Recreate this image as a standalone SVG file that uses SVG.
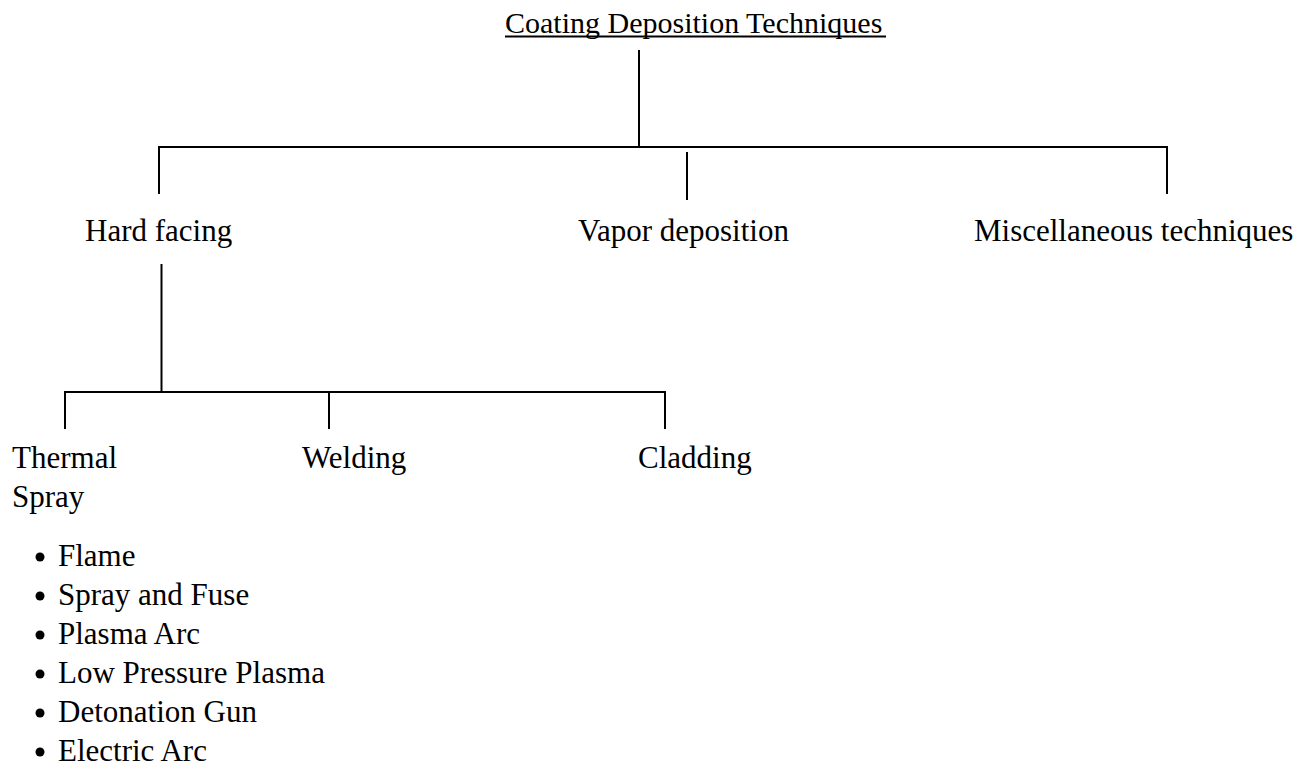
<svg xmlns="http://www.w3.org/2000/svg" width="1311" height="767" viewBox="0 0 1311 767">
  <style>
    .t { font-family: "Liberation Serif", "Times New Roman", serif; font-size: 31px; fill: #000; }
    .ttl { font-size: 30px; }
    .ln { stroke: #000; stroke-width: 2; fill: none; }
  </style>
  <rect width="1311" height="767" fill="#fff"/>
  <g id="connectors">
    <line class="ln" x1="639" y1="50" x2="639" y2="147"/>
    <line class="ln" x1="158" y1="147" x2="1168" y2="147"/>
    <line class="ln" x1="159" y1="146" x2="159" y2="194"/>
    <line class="ln" x1="687" y1="152" x2="687" y2="200"/>
    <line class="ln" x1="1167" y1="146" x2="1167" y2="194"/>
    <line class="ln" x1="161.5" y1="264" x2="161.5" y2="392"/>
    <line class="ln" x1="64" y1="392" x2="666" y2="392"/>
    <line class="ln" x1="65" y1="391" x2="65" y2="429"/>
    <line class="ln" x1="329" y1="392" x2="329" y2="429"/>
    <line class="ln" x1="665" y1="391" x2="665" y2="429"/>
  </g>
  <g id="title">
    <text class="t ttl" x="505" y="33">Coating Deposition Techniques</text>
    <line x1="505" y1="36.5" x2="886" y2="36.5" stroke="#000" stroke-width="2"/>
  </g>
  <g id="hard-facing"><text class="t" x="85" y="241">Hard facing</text></g>
  <g id="vapor-deposition"><text class="t" x="578" y="241">Vapor deposition</text></g>
  <g id="misc"><text class="t" x="974" y="241">Miscellaneous techniques</text></g>
  <g id="thermal-spray">
    <text class="t" x="12" y="468">Thermal</text>
    <text class="t" x="12" y="507">Spray</text>
  </g>
  <g id="welding"><text class="t" x="302" y="468">Welding</text></g>
  <g id="cladding"><text class="t" x="638" y="468">Cladding</text></g>
  <g id="bullets">
    <circle cx="40" cy="557" r="4.5"/><text class="t" x="58" y="566">Flame</text>
    <circle cx="40" cy="596" r="4.5"/><text class="t" x="58" y="605">Spray and Fuse</text>
    <circle cx="40" cy="635" r="4.5"/><text class="t" x="58" y="644">Plasma Arc</text>
    <circle cx="40" cy="674" r="4.5"/><text class="t" x="58" y="683">Low Pressure Plasma</text>
    <circle cx="40" cy="713" r="4.5"/><text class="t" x="58" y="722">Detonation Gun</text>
    <circle cx="40" cy="752" r="4.5"/><text class="t" x="58" y="761">Electric Arc</text>
  </g>
</svg>
